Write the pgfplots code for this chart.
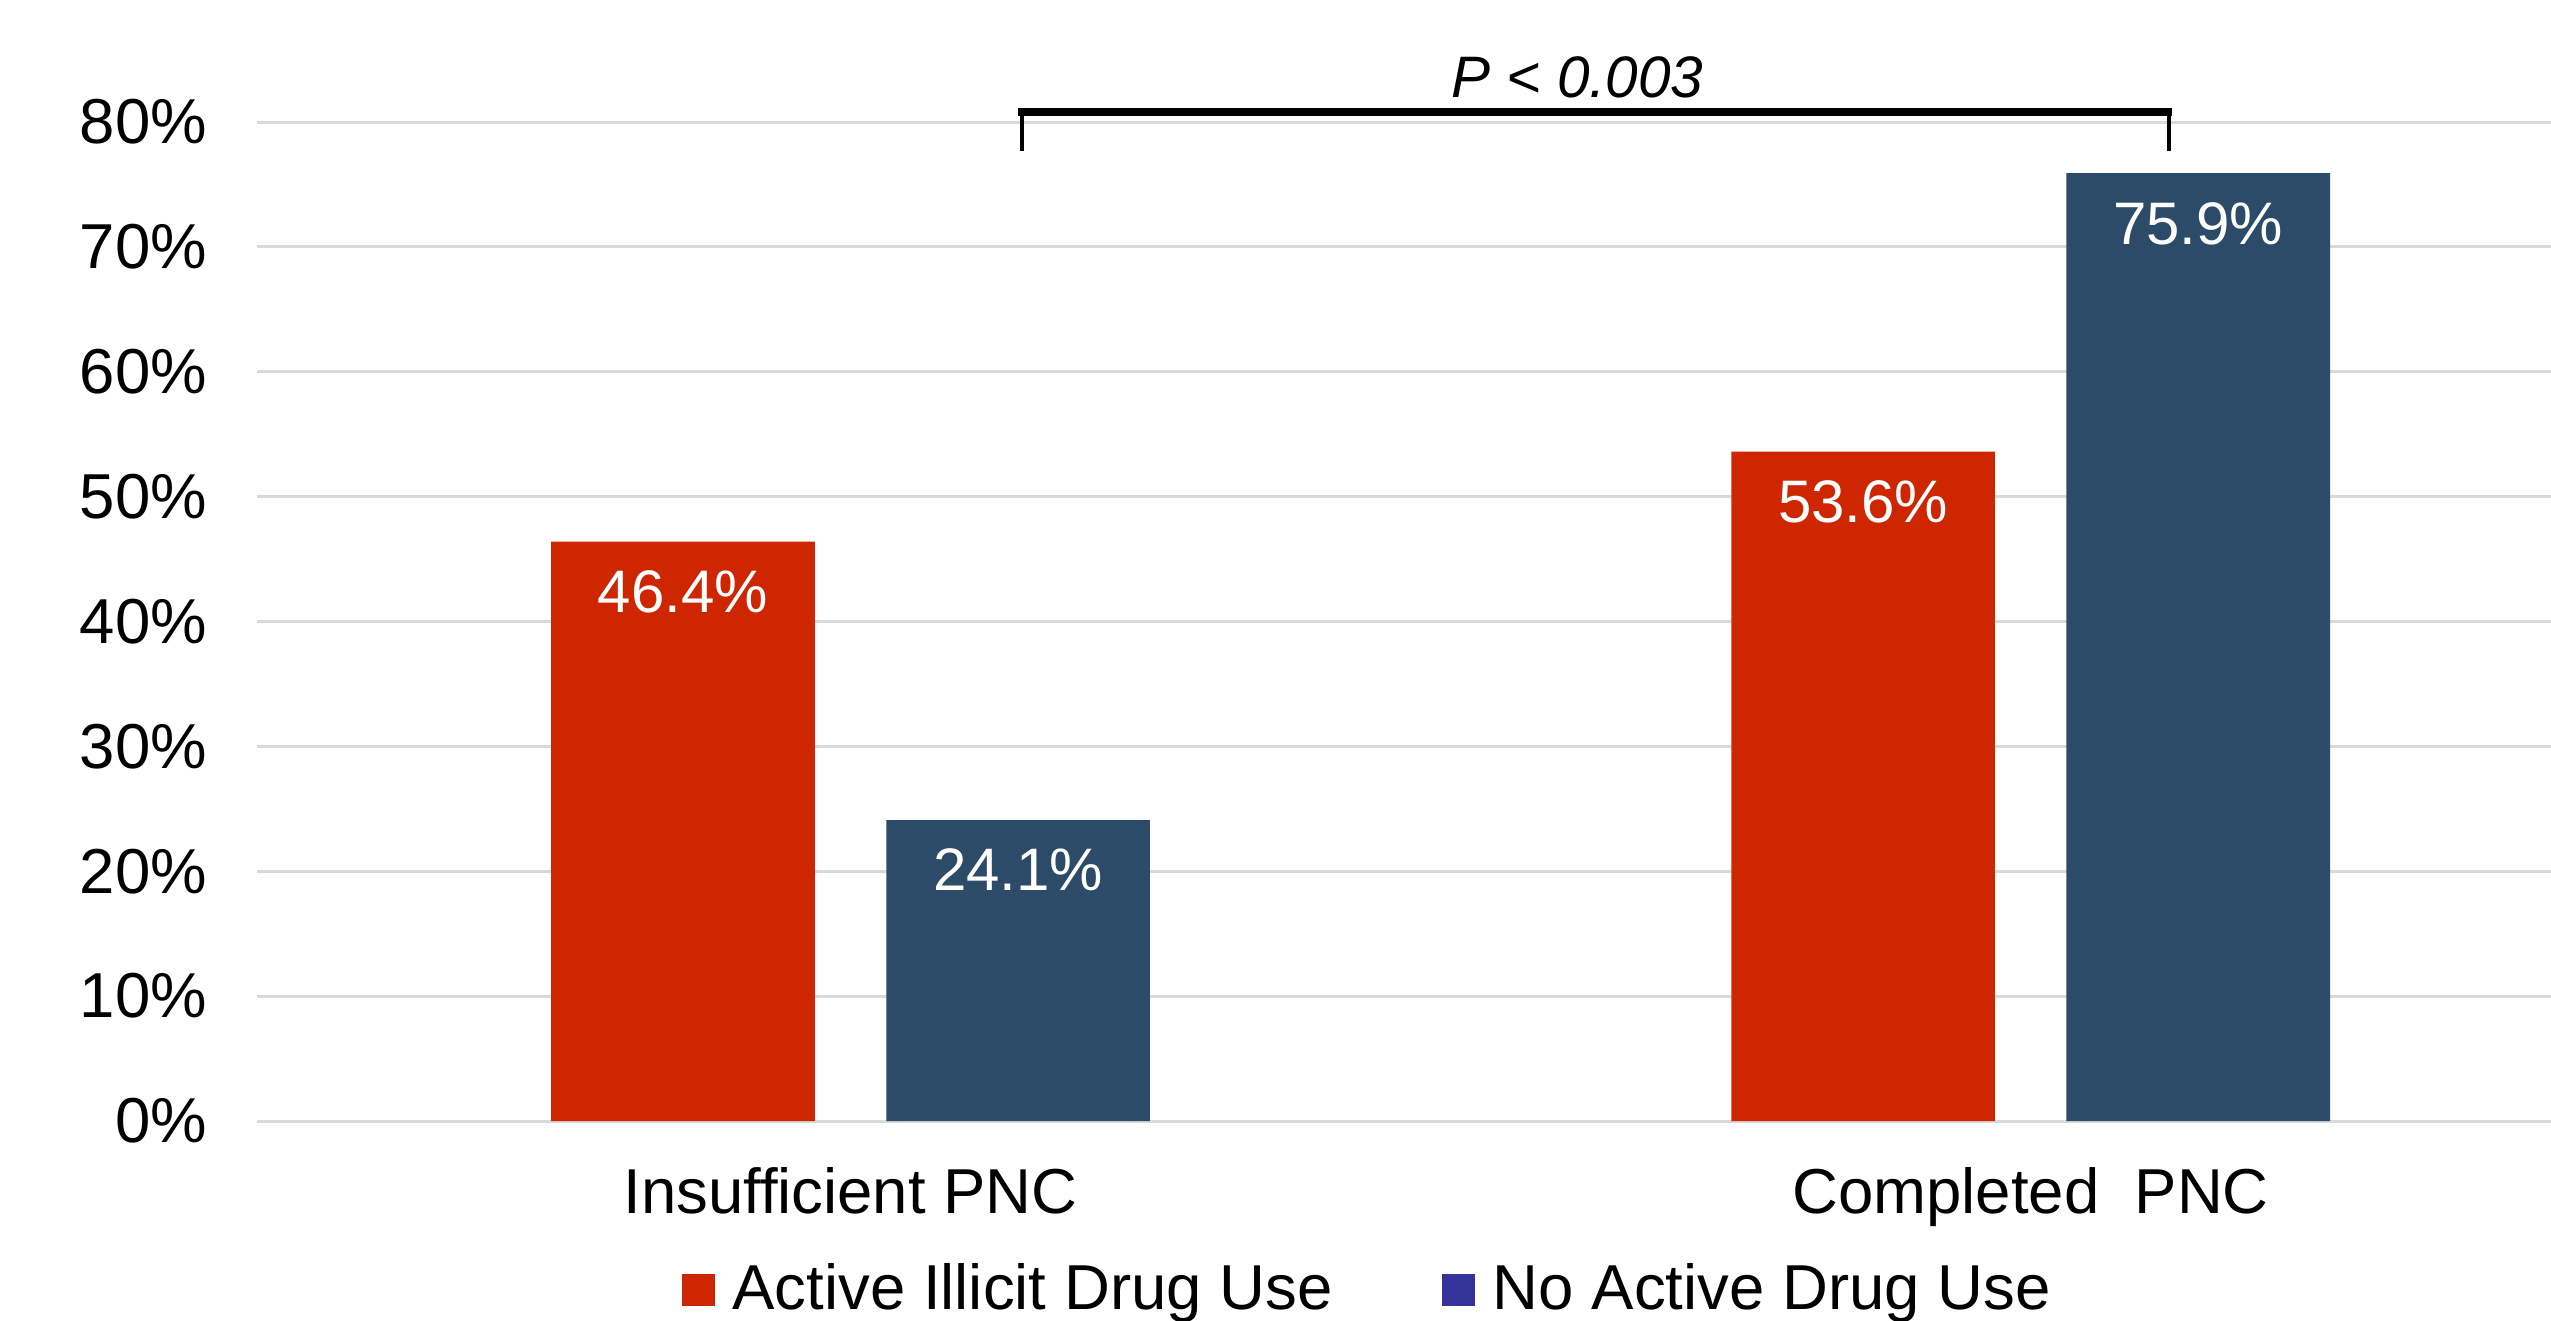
\documentclass[border=0pt]{standalone}
\usepackage{fontspec}
\setmainfont{Liberation Sans}
\usepackage{pgfplots}
\pgfplotsset{compat=1.18}
\definecolor{barred}{HTML}{CD2600}
\definecolor{barblue}{HTML}{2B4B69}
\definecolor{legblue}{HTML}{333399}
\definecolor{gridgray}{HTML}{D9D9D9}
\begin{document}
\begin{tikzpicture}
\begin{axis}[
  scale only axis,
  width=458.8pt, height=199.8pt,
  xmin=-0.503, xmax=1.441,
  ymin=0, ymax=80,
  ybar, bar width=0.2234,
  ytick={0,10,...,80},
  yticklabel={\pgfmathprintnumber{\tick}\%},
  /pgf/number format/assume math mode=true,
  xtick={0,1},
  xticklabels={Insufficient PNC, Completed\ \ PNC},
  ymajorgrids,
  grid style={gridgray, line width=0.6pt},
  axis line style={draw=none},
  major tick length=0pt,
  tick label style={font=\fontsize{12.7}{15}\selectfont},
  yticklabel style={xshift=-6.5pt},
  xticklabel style={yshift=-5.8pt},
  clip=false,
  point meta=explicit symbolic,
  nodes near coords,
  nodes near coords style={anchor=north, inner sep=0pt, yshift=-5.6pt, text=white, font=\fontsize{12}{14}\selectfont},
  legend style={draw=none, at={(0.4875,0)}, anchor=center, yshift=-33.8pt,
    font=\fontsize{12.7}{15}\selectfont, legend columns=2,
    /tikz/every even column/.append style={column sep=18.4pt},
    nodes={inner xsep=3.6pt}},
  legend image code/.code={\fill[#1] (0pt,-3.25pt) rectangle (6.5pt,3.25pt);},
]
\addlegendimage{fill=barred, draw=none}
\addlegendentry{Active Illicit Drug Use}
\addlegendimage{fill=legblue, draw=none}
\addlegendentry{No Active Drug Use}
\addplot[bar shift=-0.142, fill=barred, draw=none, forget plot]
  coordinates {(0,46.4) [46.4\%] (1,53.6) [53.6\%]};
\addplot[bar shift=0.142, fill=barblue, draw=none, forget plot]
  coordinates {(0,24.1) [24.1\%] (1,75.9) [75.9\%]};
\draw[line width=0.8pt] (axis cs:0.145,77.7) -- (axis cs:0.145,80.8);
\draw[line width=0.8pt] (axis cs:1.117,77.7) -- (axis cs:1.117,80.8);
\draw[line width=1.5pt] (axis cs:0.142,80.8) -- (axis cs:1.120,80.8);
\node[font=\fontsize{11.7}{14}\selectfont\itshape] at (axis cs:0.616,83.6) {P < 0.003};
\end{axis}
\pgfresetboundingbox
\path[use as bounding box] ([xshift=-51.4pt,yshift=-40pt]current axis.south west) rectangle ([yshift=24.4pt]current axis.north east);
\end{tikzpicture}
\end{document}
